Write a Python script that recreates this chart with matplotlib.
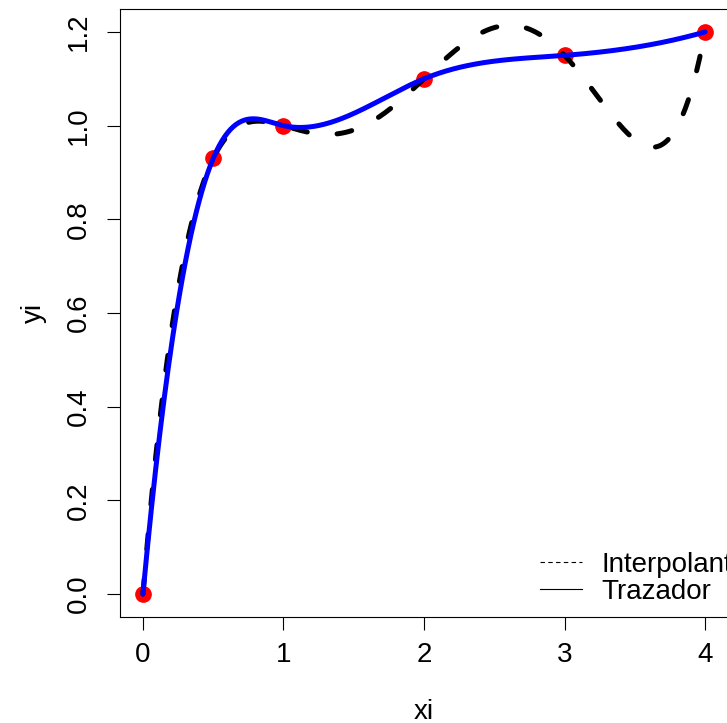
import numpy as np
import matplotlib
matplotlib.use("Agg")
import matplotlib.pyplot as plt
from matplotlib.lines import Line2D

# datos
xi = [0.0, 0.5, 1.0, 2.0, 3.0, 4.0]
yi = [0.0, 0.93, 1.0, 1.1, 1.15, 1.2]
legend_labels = ["Interpolante", "Trazador"]
x_ticks = [0, 1, 2, 3, 4]
y_ticks = [0.0, 0.2, 0.4, 0.6, 0.8, 1.0, 1.2]

plt.rcParams.update({
    "font.family": ["Liberation Sans", "DejaVu Sans"],
    "font.size": 20,
    "axes.linewidth": 0.8,
})


def divdiff(x, y):
    # diferencia dividida de orden len(x)-1
    c = list(y)
    for j in range(1, len(x)):
        c = [(c[i + 1] - c[i]) / (x[i + j] - x[i]) for i in range(len(c) - 1)]
    return c[0]


def fmm_spline(x, y, xx):
    # trazador cúbico tipo "fmm" (Forsythe, Malcolm, Moler), como spline() de R
    x = np.asarray(x, float)
    y = np.asarray(y, float)
    n = len(x)
    h = np.diff(x)
    A = np.zeros((n, n))
    r = np.zeros(n)
    A[0, 0], A[0, 1] = -1.0 / h[0], 1.0 / h[0]
    r[0] = 6 * divdiff(x[:4], y[:4])
    A[-1, -2], A[-1, -1] = -1.0 / h[-1], 1.0 / h[-1]
    r[-1] = 6 * divdiff(x[-4:], y[-4:])
    for i in range(1, n - 1):
        A[i, i - 1] = h[i - 1]
        A[i, i] = 2 * (h[i - 1] + h[i])
        A[i, i + 1] = h[i]
        r[i] = 6 * ((y[i + 1] - y[i]) / h[i] - (y[i] - y[i - 1]) / h[i - 1])
    M = np.linalg.solve(A, r)
    k = np.clip(np.searchsorted(x, xx) - 1, 0, n - 2)
    t0 = x[k + 1] - xx
    t1 = xx - x[k]
    hk = h[k]
    return (M[k] * t0 ** 3 / (6 * hk) + M[k + 1] * t1 ** 3 / (6 * hk)
            + (y[k] / hk - M[k] * hk / 6) * t0
            + (y[k + 1] / hk - M[k + 1] * hk / 6) * t1)


xx = np.linspace(min(xi), max(xi), 400)
coef = np.polyfit(xi, yi, len(xi) - 1)
y_poly = np.polyval(coef, xx)
y_spl = fmm_spline(xi, yi, xx)

fig = plt.figure(figsize=(7.27, 7.23), dpi=100)
ax = fig.add_axes([0.1657, 0.1473, 0.8350, 0.8396])

ax.plot(xi, yi, "o", color="red", markersize=11, zorder=2)
ax.plot(xx, y_poly, color="black", lw=3.6, dashes=(3, 6),
        dash_capstyle="round", zorder=3)
ax.plot(xx, y_spl, color="blue", lw=3.6, solid_capstyle="round", zorder=4)

ax.set_xlim(-0.16, 4.16)
ax.set_ylim(-0.048, 1.248)
ax.set_xticks(x_ticks)
ax.set_yticks(y_ticks)
ax.set_yticklabels([f"{v:.1f}" for v in y_ticks], rotation=90, va="center")
ax.tick_params(axis="x", length=9.5, width=0.8, pad=9)
ax.tick_params(axis="y", length=9.5, width=0.8, pad=11)
ax.set_xlabel("xi", labelpad=22)
ax.set_ylabel("yi", labelpad=14)

handles = [
    Line2D([], [], color="black", lw=0.8, dashes=(4, 3)),
    Line2D([], [], color="black", lw=0.8),
]
ax.legend(handles, legend_labels, loc="lower left",
          bbox_to_anchor=(540 / 727, (723 - 605) / 723),
          bbox_transform=fig.transFigure, frameon=False,
          borderpad=0, borderaxespad=0, handlelength=1.5,
          handletextpad=0.7, labelspacing=0.03)

fig.savefig("out.png", dpi=100, facecolor="white")
